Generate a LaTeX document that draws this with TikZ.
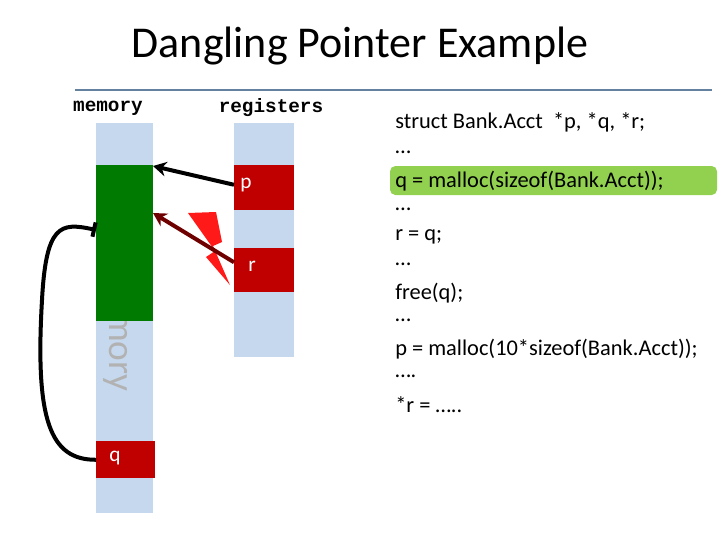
\documentclass[tikz,border=0pt]{standalone}
\usepackage{fontspec}
\setmainfont{Carlito}
\setmonofont{Liberation Mono}
\usetikzlibrary{arrows.meta}
\begin{document}
\begin{tikzpicture}[x=0.75pt,y=-0.75pt,
  lbl/.style={text=white, font=\fontsize{16}{18}\selectfont},
  code/.style={anchor=west, font=\fontsize{16.8}{19}\selectfont, inner sep=0pt}]
\useasboundingbox (0,0) rectangle (720,540);
\definecolor{colblue}{RGB}{198,216,238}
\definecolor{cellred}{RGB}{192,0,0}
\definecolor{memgreen}{RGB}{0,122,0}
\definecolor{hl}{RGB}{146,208,80}
\node[font=\fontsize{33}{38}\selectfont] (title) at (360,46) {Dangling Pointer Example};
\draw[color={rgb,255:red,100;green,130;blue,160}, line width=1pt] (75,90) -- (712,90);
\node[font=\ttfamily\bfseries\fontsize{14.5}{16}\selectfont] (memlbl) at (108,108) {memory};
\node[font=\ttfamily\bfseries\fontsize{14.5}{16}\selectfont] (reglbl) at (271,108) {registers};
% memory column
\fill[colblue] (96,123) rectangle (153,513);
\node[rotate=-90, text=gray!60, font=\fontsize{28}{30}\selectfont, anchor=east, inner sep=0pt] (mtext) at (116,392) {memory};
\node[fill=memgreen, minimum width=42.75pt, minimum height=117pt, inner sep=0pt, anchor=north west] (heap) at (96,165) {};
\node[fill=cellred, inner sep=0pt, minimum width=44.25pt, minimum height=27.75pt, anchor=north west] (q) at (96,441) {};
\node[lbl] at (115,458) {q};
% registers column
\fill[colblue] (234,123) rectangle (294,357);
\node[fill=cellred, inner sep=0pt, minimum width=45pt, minimum height=33.75pt, anchor=north west] (p) at (234,165) {};
\node[lbl] at (246,185) {p};
\node[fill=cellred, inner sep=0pt, minimum width=45pt, minimum height=33pt, anchor=north west] (r) at (234,248) {};
\node[lbl] at (252,266) {r};
% lightning
\fill[red!90!white] (188,213) -- (216,212) -- (222,242) -- (213,246) -- (230,285) -- (206,257) -- (215,251) -- cycle;
% arrows
\coordinate (pa) at (153,166);
\coordinate (ra) at (153,213);
\coordinate (qh) at (96,230);
\draw[line width=3pt, -{Stealth[length=10pt,width=11pt]}] (p.west) ++(0,-3) -- (pa);
\draw[line width=3pt, color={rgb,255:red,110;green,0;blue,0}, -{Stealth[length=10pt,width=11pt]}] (r.west) ++(0,-8) -- (ra);
\draw[line width=3pt, -{Bar[width=11pt]}] (q.west) .. controls (50,460) and (35,420) .. (42,300) .. controls (46,225) and (60,222) .. (qh);
% code
\fill[hl, rounded corners=4pt] (390,166) rectangle (717,195);
\node[code] (c1) at (395,122) {struct Bank.Acct \ *p, *q, *r;};
\node[code] (c2) at (395,152) {…};
\node[code] (c3) at (395,181) {q = malloc(sizeof(Bank.Acct));};
\node[code] (c4) at (395,209) {…};
\node[code] (c5) at (395,237) {r = q;};
\node[code] (c6) at (395,264) {…};
\node[code] (c7) at (395,293) {free(q);};
\node[code] (c8) at (395,320) {…};
\node[code] (c9) at (395,349) {p = malloc(10*sizeof(Bank.Acct));};
\node[code] (c10) at (395,376) {….};
\node[code] (c11) at (395,405) {*r = …..};
\end{tikzpicture}
\end{document}
